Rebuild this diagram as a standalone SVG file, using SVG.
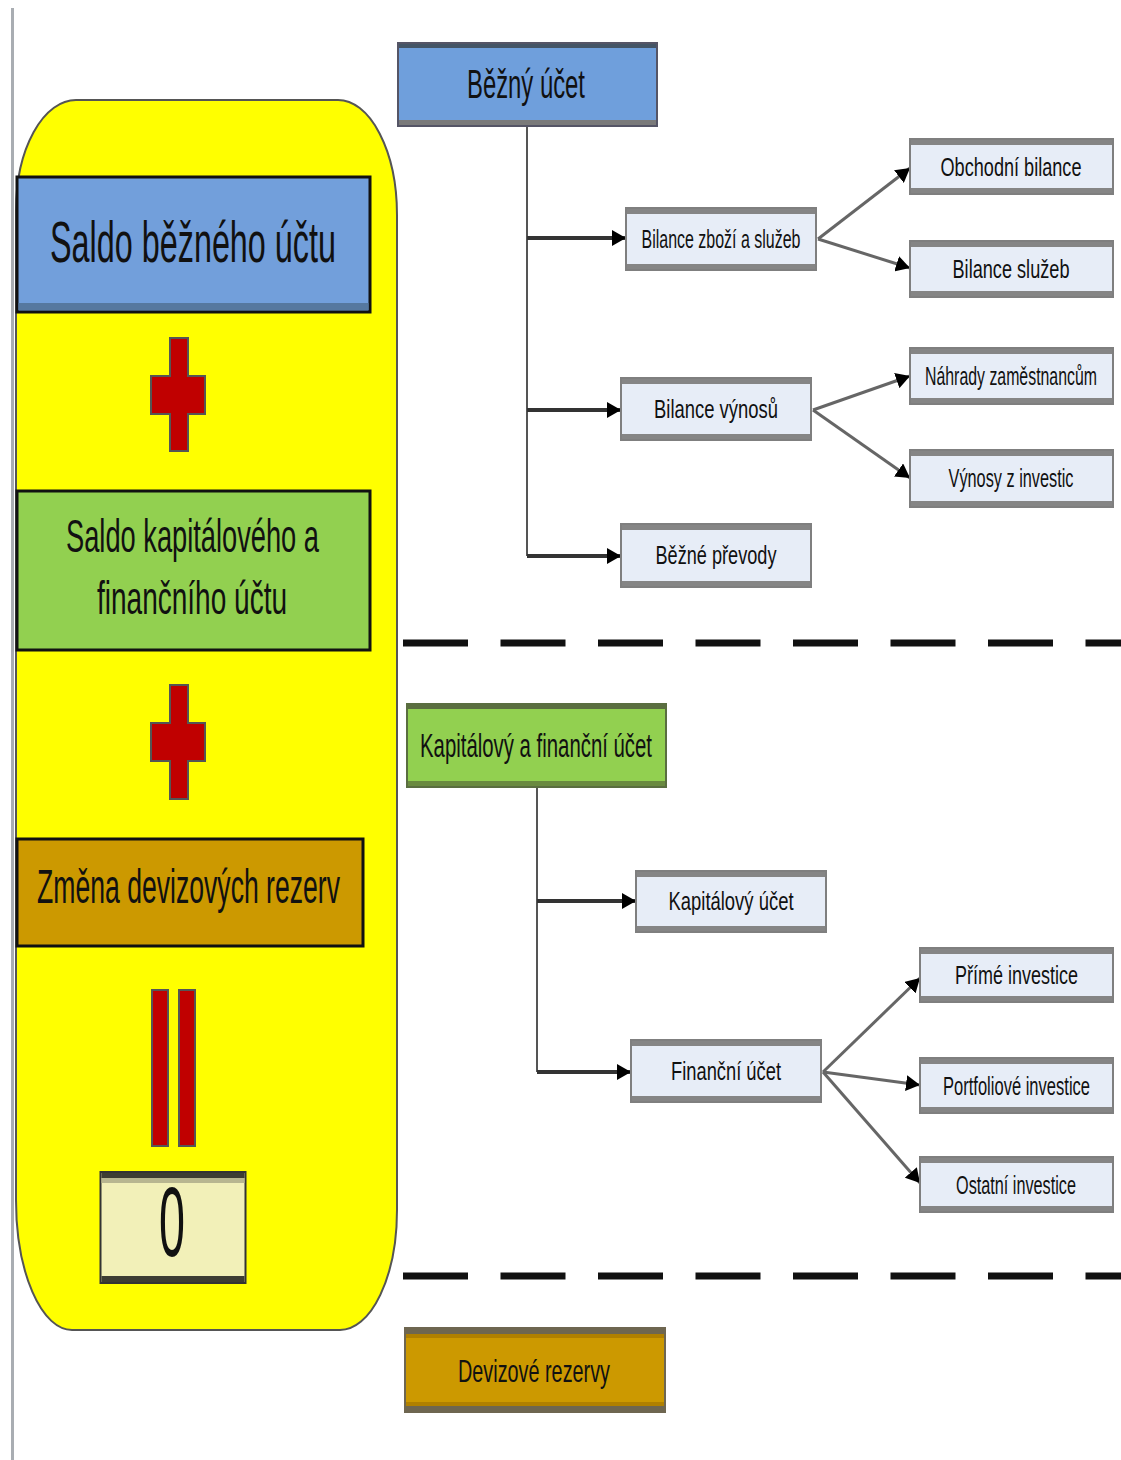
<svg xmlns="http://www.w3.org/2000/svg" width="1121" height="1460" viewBox="0 0 1121 1460">
<defs>
<style>
text{font-family:"Liberation Sans",Arial,sans-serif;fill:#111;text-anchor:middle}
.sb{fill:#e7edf7;stroke:#7f7f7f;stroke-width:2}
.band{fill:#858585}
.st{font-size:26px}
.sr{font-size:18px}
.big{stroke:#111;stroke-width:3}
.cross{fill:#c00000;stroke:#555;stroke-width:2}
.h{stroke:#333;stroke-width:4;fill:none}
.d{stroke:#666;stroke-width:3;fill:none}
.t{stroke:#555;stroke-width:2;fill:none}
.dash{stroke:#111;stroke-width:7;stroke-dasharray:65 32.5}
</style>
<marker id="ah" markerUnits="userSpaceOnUse" markerWidth="14" markerHeight="16" refX="14" refY="8" orient="auto" viewBox="0 0 14 16">
<path d="M0,0 L14,8 L0,16 z" fill="#000"/>
</marker>
</defs>
<rect x="0" y="0" width="1121" height="1460" fill="#fff"/>
<line x1="12.5" y1="8" x2="12.5" y2="1460" stroke="#a9adb2" stroke-width="3"/>

<g id="panel">
<path d="M76 100 H338 A59 115 0 0 1 397 215 V1210 A57 120 0 0 1 340 1330 H72 A56 130 0 0 1 16 1200 V210 A60 110 0 0 1 76 100 Z" fill="#ffff00" stroke="#555" stroke-width="2"/>
</g>

<g id="saldo-bezneho">
<rect class="big" x="17" y="177" width="353" height="135" fill="#729fdb"/>
<rect x="18.5" y="303" width="350" height="7" fill="#56789f"/>
<text x="193" y="262" font-size="58" textLength="286" lengthAdjust="spacingAndGlyphs">Saldo běžného účtu</text>
</g>

<g id="plus1">
<path class="cross" d="M170 338 H188 V376 H205 V414 H188 V451 H170 V414 H151 V376 H170 Z"/>
</g>

<g id="saldo-kapitaloveho">
<rect class="big" x="17" y="491" width="353" height="159" fill="#92d050"/>
<text x="192.5" y="552" font-size="46" textLength="253" lengthAdjust="spacingAndGlyphs">Saldo kapitálového a</text>
<text x="192" y="614" font-size="46" textLength="190" lengthAdjust="spacingAndGlyphs">finančního účtu</text>
</g>

<g id="plus2">
<path class="cross" d="M170 685 H188 V723 H205 V761 H188 V799 H170 V761 H151 V723 H170 Z"/>
</g>

<g id="zmena">
<rect class="big" x="17" y="839" width="346" height="107" fill="#cc9900"/>
<text x="188.5" y="903" font-size="48" textLength="303" lengthAdjust="spacingAndGlyphs">Změna devizových rezerv</text>
</g>

<g id="equals">
<rect class="cross" x="152" y="990" width="16" height="156"/>
<rect class="cross" x="179" y="990" width="16" height="156"/>
</g>

<g id="zero">
<rect x="100.5" y="1172" width="145" height="111" fill="#f2f0b8" stroke="#333" stroke-width="2"/>
<rect x="101.5" y="1173" width="143" height="5" fill="#3d3d33"/>
<rect x="101.5" y="1178" width="143" height="5" fill="#b8b690"/>
<rect x="101.5" y="1276" width="143" height="6" fill="#3d3d33"/>
<text x="172" y="1256" font-size="98" textLength="26" lengthAdjust="spacingAndGlyphs">0</text>
</g>

<g id="connectors">
<path class="t" d="M527 126 V556"/>
<path class="h" d="M527 238 H626" marker-end="url(#ah)"/>
<path class="h" d="M527 410 H621" marker-end="url(#ah)"/>
<path class="h" d="M527 556 H621" marker-end="url(#ah)"/>
<path class="d" d="M818 239 L910 168" marker-end="url(#ah)"/>
<path class="d" d="M818 239 L910 268" marker-end="url(#ah)"/>
<path class="d" d="M813 410 L910 376" marker-end="url(#ah)"/>
<path class="d" d="M813 410 L910 478" marker-end="url(#ah)"/>
<path class="t" d="M537 787 V1072"/>
<path class="h" d="M537 901 H636" marker-end="url(#ah)"/>
<path class="h" d="M537 1072 H631" marker-end="url(#ah)"/>
<path class="d" d="M823 1072 L920 978" marker-end="url(#ah)"/>
<path class="d" d="M823 1072 L920 1085" marker-end="url(#ah)"/>
<path class="d" d="M823 1072 L920 1183" marker-end="url(#ah)"/>
</g>

<g id="separators">
<line class="dash" x1="403" y1="643" x2="1121" y2="643"/>
<line class="dash" x1="403" y1="1276" x2="1121" y2="1276"/>
</g>

<g id="bezny-ucet">
<rect x="398" y="43" width="259" height="83" fill="#6f9fdc" stroke="#556" stroke-width="2"/>
<rect x="399" y="44" width="257" height="4" fill="#445566"/>
<rect x="399" y="120" width="257" height="5" fill="#7a7a7a"/>
<text x="526" y="98" font-size="40" textLength="118" lengthAdjust="spacingAndGlyphs">Běžný účet</text>
</g>

<g id="bilance-zbozi">
<rect class="sb" x="626" y="208" width="190" height="62"/>
<rect class="band" x="627" y="209" width="188" height="5"/><rect class="band" x="627" y="264" width="188" height="5"/>
<text class="st" x="721" y="248" textLength="159" lengthAdjust="spacingAndGlyphs">Bilance zboží a služeb</text>
</g>

<g id="obchodni-bilance">
<rect class="sb" x="910" y="139" width="203" height="55"/>
<rect class="band" x="911" y="140" width="201" height="5"/><rect class="band" x="911" y="188" width="201" height="5"/>
<text class="sr" transform="translate(1011 176) scale(1 1.45)" x="0" y="0" textLength="141" lengthAdjust="spacingAndGlyphs">Obchodní bilance</text>
</g>

<g id="bilance-sluzeb">
<rect class="sb" x="910" y="241" width="203" height="56"/>
<rect class="band" x="911" y="242" width="201" height="5"/><rect class="band" x="911" y="291" width="201" height="5"/>
<text class="sr" transform="translate(1011 278) scale(1 1.45)" x="0" y="0" textLength="117" lengthAdjust="spacingAndGlyphs">Bilance služeb</text>
</g>

<g id="bilance-vynosu">
<rect class="sb" x="621" y="378" width="190" height="62"/>
<rect class="band" x="622" y="379" width="188" height="5"/><rect class="band" x="622" y="434" width="188" height="5"/>
<text class="st" x="716" y="418" textLength="124" lengthAdjust="spacingAndGlyphs">Bilance výnosů</text>
</g>

<g id="nahrady">
<rect class="sb" x="910" y="348" width="203" height="56"/>
<rect class="band" x="911" y="349" width="201" height="5"/><rect class="band" x="911" y="398" width="201" height="5"/>
<text class="sr" transform="translate(1011 385) scale(1 1.45)" x="0" y="0" textLength="172" lengthAdjust="spacingAndGlyphs">Náhrady zaměstnancům</text>
</g>

<g id="vynosy-z-investic">
<rect class="sb" x="910" y="450" width="203" height="57"/>
<rect class="band" x="911" y="451" width="201" height="5"/><rect class="band" x="911" y="501" width="201" height="5"/>
<text class="sr" transform="translate(1011 487) scale(1 1.45)" x="0" y="0" textLength="125" lengthAdjust="spacingAndGlyphs">Výnosy z investic</text>
</g>

<g id="bezne-prevody">
<rect class="sb" x="621" y="524" width="190" height="63"/>
<rect class="band" x="622" y="525" width="188" height="5"/><rect class="band" x="622" y="581" width="188" height="5"/>
<text class="st" x="716" y="564" textLength="121" lengthAdjust="spacingAndGlyphs">Běžné převody</text>
</g>

<g id="kapitalovy-a-financni">
<rect x="407" y="704" width="259" height="83" fill="#92d050" stroke="#5a6e40" stroke-width="2"/>
<rect x="408" y="705" width="257" height="4" fill="#5a6e40"/>
<rect x="408" y="781" width="257" height="5" fill="#6a8a40"/>
<text x="536" y="757" font-size="34" textLength="232" lengthAdjust="spacingAndGlyphs">Kapitálový a finanční účet</text>
</g>

<g id="kapitalovy-ucet">
<rect class="sb" x="636" y="871" width="190" height="61"/>
<rect class="band" x="637" y="872" width="188" height="5"/><rect class="band" x="637" y="926" width="188" height="5"/>
<text class="st" x="731" y="910" textLength="125" lengthAdjust="spacingAndGlyphs">Kapitálový účet</text>
</g>

<g id="financni-ucet">
<rect class="sb" x="631" y="1040" width="190" height="62"/>
<rect class="band" x="632" y="1041" width="188" height="5"/><rect class="band" x="632" y="1096" width="188" height="5"/>
<text class="st" x="726" y="1080" textLength="110" lengthAdjust="spacingAndGlyphs">Finanční účet</text>
</g>

<g id="prime-investice">
<rect class="sb" x="920" y="948" width="193" height="54"/>
<rect class="band" x="921" y="949" width="191" height="5"/><rect class="band" x="921" y="996" width="191" height="5"/>
<text class="sr" transform="translate(1016.5 984) scale(1 1.45)" x="0" y="0" textLength="123" lengthAdjust="spacingAndGlyphs">Přímé investice</text>
</g>

<g id="portfoliove-investice">
<rect class="sb" x="920" y="1058" width="193" height="55"/>
<rect class="band" x="921" y="1059" width="191" height="5"/><rect class="band" x="921" y="1107" width="191" height="5"/>
<text class="sr" transform="translate(1016.5 1095) scale(1 1.45)" x="0" y="0" textLength="147" lengthAdjust="spacingAndGlyphs">Portfoliové investice</text>
</g>

<g id="ostatni-investice">
<rect class="sb" x="920" y="1157" width="193" height="55"/>
<rect class="band" x="921" y="1158" width="191" height="5"/><rect class="band" x="921" y="1206" width="191" height="5"/>
<text class="sr" transform="translate(1016 1194) scale(1 1.45)" x="0" y="0" textLength="120" lengthAdjust="spacingAndGlyphs">Ostatní investice</text>
</g>

<g id="devizove-rezervy">
<rect x="405" y="1328" width="260" height="84" fill="#cc9900" stroke="#6e6650" stroke-width="2"/>
<rect x="406" y="1329" width="258" height="5" fill="#6e6650"/>
<rect x="406" y="1334" width="258" height="4" fill="#b08000"/>
<rect x="406" y="1402" width="258" height="4" fill="#b08000"/>
<rect x="406" y="1406" width="258" height="5" fill="#6e6650"/>
<text x="534" y="1382" font-size="32" textLength="152" lengthAdjust="spacingAndGlyphs">Devizové rezervy</text>
</g>
</svg>
